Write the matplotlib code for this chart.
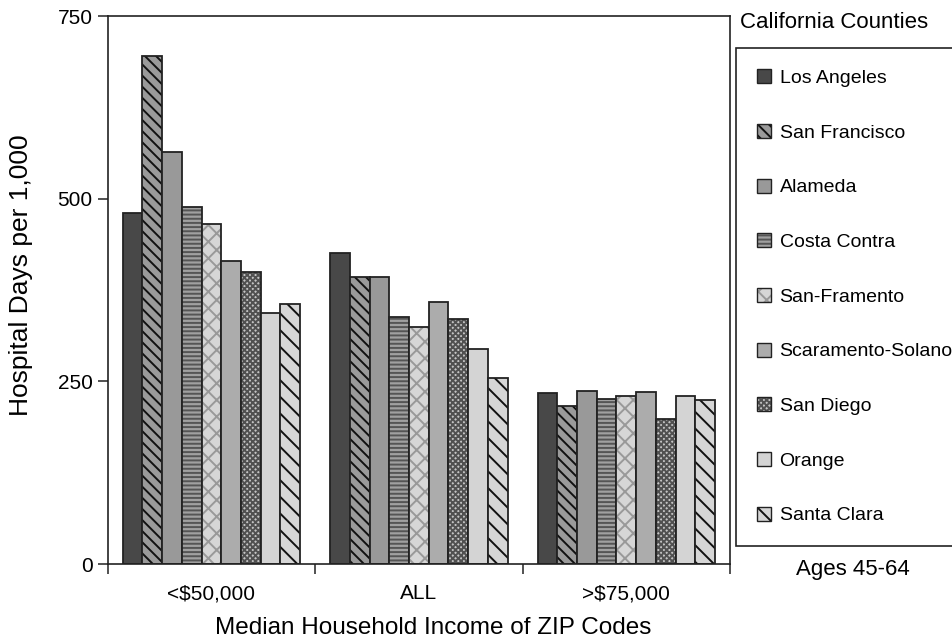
import matplotlib.pyplot as plt
from matplotlib.patches import Patch
import numpy as np

plt.rcParams['font.family'] = ['Liberation Sans', 'DejaVu Sans']
plt.rcParams['hatch.linewidth'] = 1.4

income_groups = ['<$50,000', 'ALL', '>$75,000']
counties = ['Los Angeles', 'San Francisco', 'Alameda', 'Costa Contra', 'San-Framento',
            'Scaramento-Solano', 'San Diego', 'Orange', 'Santa Clara']

# hospital days per 1,000, one value per county, per income group
under_50k = [480, 695, 564, 488, 465, 415, 399, 343, 356]
all_zips = [426, 393, 393, 338, 325, 358, 336, 294, 255]
over_75k = [234, 216, 237, 226, 230, 235, 198, 230, 225]

face_colors = ['#484848', '#9a9a9a', '#999999', '#a0a0a0', '#d6d6d6',
               '#acacac', '#c4c4c4', '#d4d4d4', '#d6d6d6']
hatches = ['', '\\\\\\', '', '----', 'xx', '', 'xxxxxx', '', '\\\\']
hatch_colors = ['#484848', '#111111', '#999999', '#555555', '#999999',
                '#acacac', '#505050', '#d4d4d4', '#111111']

fig = plt.figure(figsize=(9.52, 6.41), dpi=100)
ax = fig.add_axes([0.1131, 0.1201, 0.6537, 0.8549])

x = np.arange(len(income_groups))
bar_w = 0.095
handles = []
for i, name in enumerate(counties):
    vals = [under_50k[i], all_zips[i], over_75k[i]]
    pos = x + (i - 4) * bar_w
    # fill + hatch first, then the dark outline on top
    ax.bar(pos, vals, bar_w, color=face_colors[i], hatch=hatches[i],
           edgecolor=hatch_colors[i], linewidth=0)
    ax.bar(pos, vals, bar_w, facecolor='none', edgecolor='#222222', linewidth=1.3)
    handles.append((Patch(facecolor=face_colors[i], hatch=hatches[i],
                          edgecolor=hatch_colors[i], linewidth=0),
                    Patch(facecolor='none', edgecolor='#222222', linewidth=1.0)))

ax.set_xlim(-0.5, 2.5)
ax.set_ylim(0, 750)

# ticks between the groups, labels under the group centres
ax.set_xticks([-0.5, 0.5, 1.5, 2.5])
ax.set_xticklabels([])
ax.set_xticks(x, minor=True)
ax.set_xticklabels(income_groups, minor=True)
ax.tick_params(axis='x', which='major', length=7.2, width=1.1, color='#222222')
ax.tick_params(axis='x', which='minor', length=0, pad=14.5, labelsize=15)
ax.set_yticks([0, 250, 500, 750])
ax.tick_params(axis='y', length=7.2, width=1.1, pad=3.6, labelsize=15, color='#222222')

for s in ax.spines.values():
    s.set_linewidth(1.2)
    s.set_color('#222222')

ax.set_ylabel('Hospital Days per 1,000', fontsize=19)
ax.yaxis.label.set_verticalalignment('center')
ax.yaxis.set_label_coords(-0.139, 0.527)
ax.set_xlabel('Median Household Income of ZIP Codes', fontsize=17.5)
ax.xaxis.label.set_verticalalignment('center')
ax.xaxis.set_label_coords(0.523, -0.116)

fig.text(740 / 952, 1 - 23 / 641, 'California Counties', fontsize=16, ha='left', va='center')
fig.text(853 / 952, 1 - 569 / 641, 'Ages 45-64', fontsize=16, ha='center', va='center')

leg = fig.legend(handles, counties, loc='upper left',
                 bbox_to_anchor=(736 / 952, 0, 0.4, 1 - 48 / 641), mode='expand',
                 borderaxespad=0, fontsize=14, frameon=True, fancybox=False,
                 edgecolor='#222222', framealpha=1, labelspacing=1.9, borderpad=1.1,
                 handlelength=0.72, handleheight=0.72, handletextpad=0.42)
leg.get_frame().set_linewidth(1.2)

fig.savefig('out.png', dpi=100)
